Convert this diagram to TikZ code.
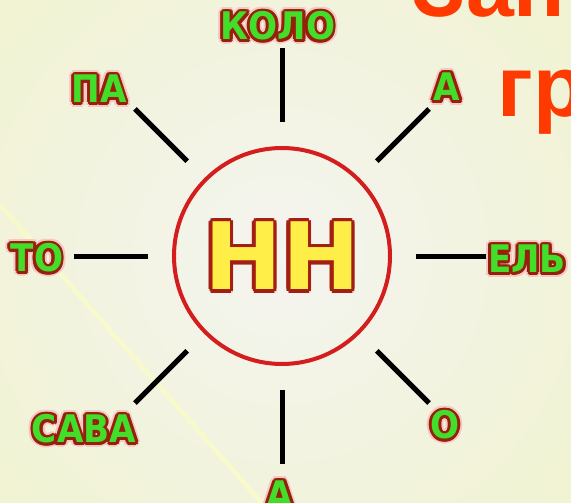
\documentclass[tikz,border=0pt]{standalone}
\usepackage{fontspec}
\newfontfamily\sylfont{DejaVu Sans}[FakeStretch=0.9]
\newfontfamily\hubfont{DejaVu Sans}
\newfontfamily\headfont{Liberation Sans}
\usetikzlibrary{calc}

\definecolor{paper}{RGB}{244,244,240}
\definecolor{papery}{RGB}{239,242,192}
\definecolor{raycol}{RGB}{250,251,200}
\definecolor{ringred}{RGB}{212,30,30}
\definecolor{sylgreen}{RGB}{66,222,42}
\definecolor{sylrim}{RGB}{150,32,12}
\definecolor{sylglow}{RGB}{245,200,195}
\definecolor{hhyellow}{RGB}{255,238,72}
\definecolor{hhrim}{RGB}{165,30,20}
\definecolor{headred}{RGB}{255,58,0}

\tikzset{
  syl/.style={font=\sylfont\bfseries\fontsize{38}{38}\selectfont, inner sep=0pt},
  hhtext/.style={font=\hubfont\bfseries\fontsize{93}{93}\selectfont, inner sep=0pt},
  hub/.style={circle, draw=ringred, line width=4pt, minimum size=216pt, inner sep=0pt},
  spoke/.style={line width=5pt, black},
  headline/.style={font=\headfont\bfseries\fontsize{86}{86}\selectfont, text=headred, inner sep=0pt, anchor=base west},
}

% green syllable with dark rim: name, position, text
\newcommand{\syllable}[3]{%
  \foreach \k in {0,30,...,330}
    \node[syl, text=sylglow] at ($(#2)+(\k:4.8)$) {#3};
  \foreach \k in {0,30,...,330}
    \node[syl, text=sylrim] at ($(#2)+(\k:2.8)$) {#3};
  \node[syl, text=sylgreen] (#1) at (#2) {#3};
}

\begin{document}
\begin{tikzpicture}[x=1pt, y=1pt]
    \useasboundingbox (0,0) rectangle (571,-503);
    \clip (0,0) rectangle (571,-503);

    % paper
    \fill[papery] (0,0) rectangle (571,-503);
    \shade[inner color=paper, outer color=papery] (282,-256) circle (600);
    \draw[raycol, line width=5pt, opacity=.8] (0,-205) -- (262,-503);

    % the ring with HH
    \node[hhtext, text=black!25, opacity=.5] at (285,-260) {НН};
    \foreach \k in {0,30,...,330}
      \node[hhtext, text=hhrim] at ($(282,-256)+(\k:3.6)$) {НН};
    \node[hub, hhtext, text=hhyellow] (hub) at (282,-256) {НН};

    \foreach \a [count=\i] in {90,45,0,-45,-90,-135,180,135} {
      \coordinate (tip\i) at ($(hub.center)+(\a:208)$);
      \draw[spoke, shorten <=24pt] (hub.\a) -- (tip\i);
    }

    % syllables
    \syllable{kolo}{278,-26}{КОЛО}
    \syllable{aup}{447,-87}{А}
    \syllable{el}{527,-259}{ЕЛЬ}
    \syllable{o}{445,-425}{О}
    \syllable{adown}{280,-495}{А}
    \syllable{sava}{84,-429}{САВА}
    \syllable{to}{37,-258}{ТО}
    \syllable{pa}{99,-89}{ПА}

    % heading, cut by the edge
    \node[headline] (head1) at (412,-17) {Зап};
    \node[headline] (head2) at (497,-117) {гр};
\end{tikzpicture}
\end{document}
